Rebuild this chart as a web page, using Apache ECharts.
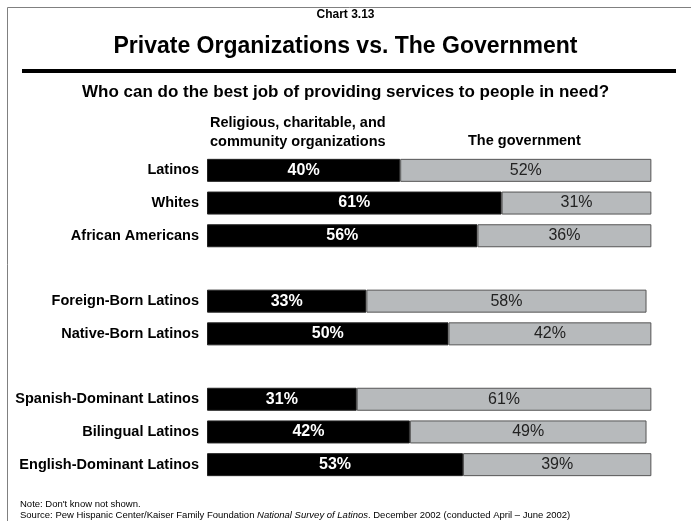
<!DOCTYPE html>
<html>
<head>
<meta charset="utf-8">
<script src="https://cdn.jsdelivr.net/npm/echarts@6/dist/echarts.min.js"></script>
<style>
html,body{margin:0;padding:0;background:#fff;}
#chart{width:691px;height:521px;}
</style>
</head>
<body>
<div id="chart"></div>
<script>
var categories = ['Latinos', 'Whites', 'African Americans', ' ', 'Foreign-Born Latinos', 'Native-Born Latinos', '  ', 'Spanish-Dominant Latinos', 'Bilingual Latinos', 'English-Dominant Latinos'];
var privateValues = [40, 61, 56, null, 33, 50, null, 31, 42, 53];
var governmentValues = [52, 31, 36, null, 58, 42, null, 61, 49, 39];
var seriesNames = ['Religious, charitable, and\ncommunity organizations', 'The government'];

var FONT = '"Liberation Sans", Arial, Helvetica, sans-serif';
var chart = echarts.init(document.getElementById('chart'));
chart.setOption({
  animation: false,
  backgroundColor: '#ffffff',
  grid: { left: 207, top: 154, width: 483, height: 327 },
  xAxis: { type: 'value', min: 0, max: 100, show: false },
  yAxis: {
    type: 'category', data: categories, inverse: true,
    axisLine: { show: false }, axisTick: { show: false }, splitLine: { show: false },
    axisLabel: { color: '#000', fontFamily: FONT, fontWeight: 'bold', fontSize: 14.5, margin: 8 }
  },
  series: [
    {
      name: seriesNames[0], type: 'bar', stack: 'a', data: privateValues, barWidth: 23,
      itemStyle: { color: '#000000', borderColor: '#222', borderWidth: 1 },
      label: { show: true, position: 'inside', formatter: '{c}%', color: '#fff', fontFamily: FONT, fontWeight: 'bold', fontSize: 16 }
    },
    {
      name: seriesNames[1], type: 'bar', stack: 'a', data: governmentValues, barWidth: 23,
      itemStyle: { color: '#b7babc', borderColor: '#555', borderWidth: 1 },
      label: { show: true, position: 'inside', formatter: '{c}%', color: '#222', fontFamily: FONT, fontSize: 16 }
    }
  ],
  graphic: [
    { type: 'line', shape: { x1: 7.5, y1: 7.5, x2: 691, y2: 7.5 }, style: { stroke: '#808080', lineWidth: 1 } },
    { type: 'line', shape: { x1: 7.5, y1: 7.5, x2: 7.5, y2: 521 }, style: { stroke: '#808080', lineWidth: 1 } },
    { type: 'rect', shape: { x: 22, y: 69, width: 654, height: 4 }, style: { fill: '#000' } },
    { type: 'text', left: 'center', top: 9, style: { text: 'Chart 3.13', font: 'bold 12px ' + FONT, fill: '#000' } },
    { type: 'text', left: 'center', top: 35, style: { text: 'Private Organizations vs. The Government', font: 'bold 23px ' + FONT, fill: '#000' } },
    { type: 'text', left: 'center', top: 84, style: { text: 'Who can do the best job of providing services to people in need?', font: 'bold 17px ' + FONT, fill: '#000' } },
    { type: 'text', left: 210, top: 113, style: { text: 'Religious, charitable, and\ncommunity organizations', font: 'bold 14.5px ' + FONT, lineHeight: 19, fill: '#000' } },
    { type: 'text', left: 468, top: 133, style: { text: 'The government', font: 'bold 14.5px ' + FONT, fill: '#000' } },
    { type: 'text', left: 20, top: 499, style: { text: "Note: Don't know not shown.", font: '9.5px ' + FONT, fill: '#000' } },
    { type: 'text', left: 20, top: 510, style: {
        text: 'Source: Pew Hispanic Center/Kaiser Family Foundation {i|National Survey of Latinos}. December 2002 (conducted April \u2013 June 2002)',
        font: '9.5px ' + FONT, fill: '#000',
        rich: { i: { font: 'italic 9.5px ' + FONT, fill: '#000' } }
    } }
  ]
});
</script>
</body>
</html>
